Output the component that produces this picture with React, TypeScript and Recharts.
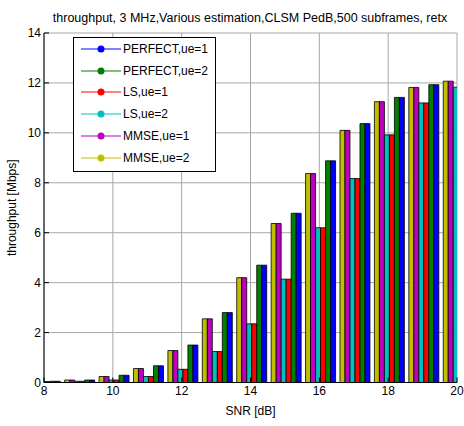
import { Bar, BarChart, CartesianGrid, Legend, XAxis, YAxis } from 'recharts';

const snr = [8, 9, 10, 11, 12, 13, 14, 15, 16, 17, 18, 19, 20];
const perfectUe1 = [0.05, 0.1, 0.29, 0.67, 1.5, 2.8, 4.7, 6.78, 8.88, 10.37, 11.42, 11.93, 12.1];
const perfectUe2 = [0.05, 0.1, 0.29, 0.67, 1.5, 2.8, 4.7, 6.78, 8.88, 10.37, 11.42, 11.93, 12.1];
const lsUe1 = [0.04, 0.05, 0.1, 0.24, 0.53, 1.24, 2.35, 4.14, 6.2, 8.17, 9.92, 11.2, 11.83];
const lsUe2 = [0.04, 0.05, 0.1, 0.24, 0.53, 1.24, 2.35, 4.14, 6.2, 8.17, 9.92, 11.2, 11.83];
const mmseUe1 = [0.05, 0.1, 0.24, 0.56, 1.28, 2.55, 4.2, 6.37, 8.37, 10.1, 11.25, 11.82, 12.07];
const mmseUe2 = [0.05, 0.1, 0.24, 0.56, 1.28, 2.55, 4.2, 6.37, 8.37, 10.1, 11.25, 11.82, 12.07];

const xTicks = [8, 10, 12, 14, 16, 18, 20];
const yTicks = [0, 2, 4, 6, 8, 10, 12, 14];

// legend order; bars are drawn in reverse
const series = [
  { key: 'p1', name: 'PERFECT,ue=1', color: '#0000ff', values: perfectUe1 },
  { key: 'p2', name: 'PERFECT,ue=2', color: '#008000', values: perfectUe2 },
  { key: 'ls1', name: 'LS,ue=1', color: '#ff0000', values: lsUe1 },
  { key: 'ls2', name: 'LS,ue=2', color: '#00bfbf', values: lsUe2 },
  { key: 'mm1', name: 'MMSE,ue=1', color: '#bf00bf', values: mmseUe1 },
  { key: 'mm2', name: 'MMSE,ue=2', color: '#bfbf00', values: mmseUe2 },
];

const data = snr.map((s, i) => {
  const row: Record<string, number> = { snr: s };
  series.forEach((sr) => (row[sr.key] = sr.values[i]));
  return row;
});

const font = 'Arial, "Liberation Sans", Helvetica, sans-serif';
const tickStyle = { fill: '#000', fontSize: 12, fontFamily: font };

function BoxLegend() {
  return (
    <div
      style={{
        border: '1px solid #000',
        background: '#fff',
        width: 143,
        height: 135,
        boxSizing: 'border-box',
        padding: 0,
        fontFamily: font,
        fontSize: 12,
        color: '#000',
      }}
    >
      {series.map((s) => (
        <div key={s.key} style={{ display: 'flex', alignItems: 'center', height: 21.8 }}>
          <svg width={42} height={10} style={{ marginLeft: 6 }}>
            <line x1={1} y1={5} x2={41} y2={5} stroke={s.color} strokeWidth={1} />
            <circle cx={21} cy={5} r={3.5} fill={s.color} />
          </svg>
          <span style={{ marginLeft: 1 }}>{s.name}</span>
        </div>
      ))}
    </div>
  );
}

export default function App() {
  return (
    <div style={{ position: 'absolute', left: 0, top: 0, width: 464, height: 426, background: '#fff' }}>
      <div
        style={{
          position: 'absolute',
          left: 0,
          width: 500,
          top: 11,
          textAlign: 'center',
          fontFamily: font,
          fontSize: 12.5,
          color: '#000',
          zIndex: 1,
        }}
      >
        throughput, 3 MHz,Various estimation,CLSM PedB,500 subframes, retx
      </div>
      <BarChart
        width={464}
        height={426}
        data={data}
        margin={{ top: 33, right: 7, left: 0, bottom: 13 }}
        barGap={0}
        barCategoryGap="10%"
      >
        <CartesianGrid stroke="#a8a8a8" />
        <XAxis
          dataKey="snr"
          type="number"
          domain={[8, 20]}
          ticks={xTicks}
          allowDataOverflow
          height={30.5}
          tick={tickStyle}
          tickSize={-5}
          tickMargin={9}
          stroke="#000"
          label={{ value: 'SNR [dB]', position: 'insideBottom', offset: -2, style: { fill: '#000', fontSize: 12, fontFamily: font } }}
        />
        <XAxis xAxisId="top" type="number" orientation="top" domain={[8, 20]} ticks={xTicks} height={0} tick={false} tickSize={-5} stroke="#000" />
        <YAxis
          type="number"
          domain={[0, 14]}
          ticks={yTicks}
          allowDataOverflow
          width={44}
          tick={tickStyle}
          tickSize={-5}
          tickMargin={8}
          stroke="#000"
          label={{
            value: 'throughput [Mbps]',
            angle: -90,
            position: 'insideLeft',
            offset: 12,
            style: { fill: '#000', fontSize: 12, fontFamily: font, textAnchor: 'middle' },
          }}
        />
        <YAxis yAxisId="right" type="number" orientation="right" domain={[0, 14]} ticks={yTicks} width={0} tick={false} tickSize={-5} stroke="#000" />
        <Legend
          layout="vertical"
          align="center"
          verticalAlign="middle"
          content={() => <BoxLegend />}
          wrapperStyle={{ left: 73, top: 37, width: 143 }}
        />
        {[...series].reverse().map((s) => (
          <Bar key={s.key} dataKey={s.key} name={s.name} fill={s.color} stroke="#000" strokeWidth={0.8} isAnimationActive={false} />
        ))}
      </BarChart>
    </div>
  );
}
